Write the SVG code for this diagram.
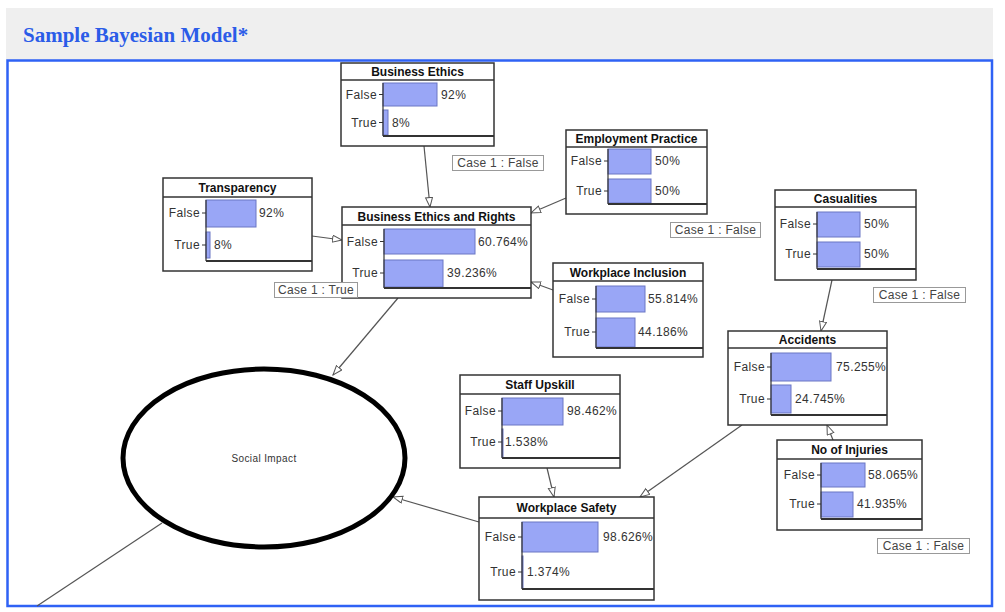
<svg xmlns="http://www.w3.org/2000/svg" width="1005" height="612" viewBox="0 0 1005 612">
<defs>
<marker id="arr" markerUnits="userSpaceOnUse" markerWidth="12" markerHeight="10" refX="10" refY="4" orient="auto">
<path d="M0.5,0.5 L10,4 L0.5,7.5 z" fill="#fff" stroke="#555" stroke-width="1"/>
</marker>
</defs>
<style>
.box{fill:#fff;stroke:#333;stroke-width:1.5}
.div{stroke:#333;stroke-width:1.5}
.ax{stroke:#333;stroke-width:1.2}
.bax{stroke:#333;stroke-width:2}
.bar{fill:#99a6f6;stroke:#6a76c4;stroke-width:1}
.tt{font-family:"Liberation Sans",Arial,sans-serif;font-size:12px;font-weight:bold;fill:#111;text-anchor:middle}
.lb{font-family:"Liberation Sans",Arial,sans-serif;font-size:12px;fill:#333;text-anchor:end;letter-spacing:0.4px}
.pc{font-family:"Liberation Sans",Arial,sans-serif;font-size:12px;fill:#333;letter-spacing:0.4px}
.cb{fill:#fff;stroke:#999;stroke-width:1}
.ct{font-family:"Liberation Sans",Arial,sans-serif;font-size:12px;fill:#444;text-anchor:middle;letter-spacing:0.3px}
.tk{stroke:#333;stroke-width:1}
.con{stroke:#555;stroke-width:1.2;fill:none}
</style>
<rect x="0" y="0" width="1005" height="612" fill="#fff"/>
<rect x="6" y="8" width="987" height="52" fill="#efefef"/>
<text x="23" y="42" font-family="'Liberation Serif','Times New Roman',serif" font-size="21" font-weight="bold" fill="#2b5ce8">Sample Bayesian Model*</text>
<rect x="7.5" y="60.5" width="984.5" height="545.5" fill="#fff" stroke="#2f62f5" stroke-width="2.5"/>

<g id="connectors">
<line class="con" x1="424" y1="146" x2="430" y2="207" marker-end="url(#arr)"/>
<line class="con" x1="566" y1="198" x2="531" y2="213" marker-end="url(#arr)"/>
<line class="con" x1="312" y1="236" x2="342" y2="240" marker-end="url(#arr)"/>
<line class="con" x1="553" y1="290" x2="531" y2="282" marker-end="url(#arr)"/>
<line class="con" x1="398" y1="298" x2="333" y2="375" marker-end="url(#arr)"/>
<line class="con" x1="479" y1="522" x2="393" y2="497" marker-end="url(#arr)"/>
<line class="con" x1="547" y1="468" x2="554" y2="497" marker-end="url(#arr)"/>
<line class="con" x1="742" y1="425" x2="640" y2="497" marker-end="url(#arr)"/>
<line class="con" x1="832" y1="280" x2="821" y2="331" marker-end="url(#arr)"/>
<line class="con" x1="833" y1="440" x2="827" y2="425" marker-end="url(#arr)"/>
<line class="con" x1="162" y1="523" x2="37" y2="606"/>
</g>

<g id="social-impact">
<ellipse cx="264" cy="458" rx="141" ry="89" fill="#fff" stroke="#000" stroke-width="5"/>
<text x="264" y="462" font-family="'Liberation Sans',Arial,sans-serif" font-size="10" fill="#333" text-anchor="middle" letter-spacing="0.4">Social Impact</text>
</g>

<g id="business-ethics">
<rect class="box" x="341" y="63" width="153" height="83"/>
<line class="div" x1="341" y1="80" x2="494" y2="80"/>
<text class="tt" x="417.5" y="76">Business Ethics</text>
<rect class="bar" x="383" y="83" width="54" height="23"/>
<rect class="bar" x="383" y="110" width="5" height="25"/>
<line class="ax" x1="383" y1="83" x2="383" y2="136"/>
<line class="bax" x1="383" y1="136" x2="494" y2="136"/>
<line class="tk" x1="379" y1="94.5" x2="383" y2="94.5"/><line class="tk" x1="379" y1="122.5" x2="383" y2="122.5"/>
<text class="lb" x="377" y="99">False</text><text class="lb" x="377" y="127">True</text>
<text class="pc" x="441" y="99">92%</text><text class="pc" x="392" y="127">8%</text>
</g>

<g id="employment-practice">
<rect class="box" x="566" y="130" width="141" height="84"/>
<line class="div" x1="566" y1="147" x2="707" y2="147"/>
<text class="tt" x="636.5" y="143">Employment Practice</text>
<rect class="bar" x="608" y="149" width="43" height="25"/>
<rect class="bar" x="608" y="179" width="43" height="24"/>
<line class="ax" x1="608" y1="149" x2="608" y2="204"/>
<line class="bax" x1="608" y1="204" x2="707" y2="204"/>
<line class="tk" x1="604" y1="161" x2="608" y2="161"/><line class="tk" x1="604" y1="191" x2="608" y2="191"/>
<text class="lb" x="602" y="165">False</text><text class="lb" x="602" y="195">True</text>
<text class="pc" x="655" y="165">50%</text><text class="pc" x="655" y="195">50%</text>
</g>

<g id="transparency">
<rect class="box" x="163" y="178" width="149" height="93"/>
<line class="div" x1="163" y1="197" x2="312" y2="197"/>
<text class="tt" x="237.5" y="192">Transparency</text>
<rect class="bar" x="206" y="200" width="50" height="27"/>
<rect class="bar" x="206" y="232" width="4" height="26"/>
<line class="ax" x1="206" y1="200" x2="206" y2="261"/>
<line class="bax" x1="206" y1="261" x2="312" y2="261"/>
<line class="tk" x1="202" y1="213" x2="206" y2="213"/><line class="tk" x1="202" y1="245" x2="206" y2="245"/>
<text class="lb" x="200" y="217">False</text><text class="lb" x="200" y="249">True</text>
<text class="pc" x="259" y="217">92%</text><text class="pc" x="214" y="249">8%</text>
</g>

<g id="business-ethics-and-rights">
<rect class="box" x="342" y="207" width="189" height="91"/>
<line class="div" x1="342" y1="225" x2="531" y2="225"/>
<text class="tt" x="436.5" y="221">Business Ethics and Rights</text>
<rect class="bar" x="384" y="229" width="91" height="25"/>
<rect class="bar" x="384" y="260" width="59" height="27"/>
<line class="ax" x1="384" y1="229" x2="384" y2="288"/>
<line class="bax" x1="384" y1="288" x2="531" y2="288"/>
<line class="tk" x1="380" y1="241.5" x2="384" y2="241.5"/><line class="tk" x1="380" y1="273" x2="384" y2="273"/>
<text class="lb" x="378" y="246">False</text><text class="lb" x="378" y="277">True</text>
<text class="pc" x="478" y="246">60.764%</text><text class="pc" x="447" y="277">39.236%</text>
</g>

<g id="workplace-inclusion">
<rect class="box" x="553" y="263" width="150" height="94"/>
<line class="div" x1="553" y1="281" x2="703" y2="281"/>
<text class="tt" x="628" y="277">Workplace Inclusion</text>
<rect class="bar" x="596" y="286" width="49" height="26"/>
<rect class="bar" x="596" y="318" width="39" height="29"/>
<line class="ax" x1="596" y1="286" x2="596" y2="348"/>
<line class="bax" x1="596" y1="348" x2="703" y2="348"/>
<line class="tk" x1="592" y1="299" x2="596" y2="299"/><line class="tk" x1="592" y1="332" x2="596" y2="332"/>
<text class="lb" x="590" y="303">False</text><text class="lb" x="590" y="336">True</text>
<text class="pc" x="648" y="303">55.814%</text><text class="pc" x="638" y="336">44.186%</text>
</g>

<g id="casualities">
<rect class="box" x="775" y="190" width="141" height="90"/>
<line class="div" x1="775" y1="207" x2="916" y2="207"/>
<text class="tt" x="845.5" y="203">Casualities</text>
<rect class="bar" x="817" y="212" width="43" height="25"/>
<rect class="bar" x="817" y="242" width="43" height="25"/>
<line class="ax" x1="817" y1="212" x2="817" y2="269"/>
<line class="bax" x1="817" y1="269" x2="916" y2="269"/>
<line class="tk" x1="813" y1="224" x2="817" y2="224"/><line class="tk" x1="813" y1="254" x2="817" y2="254"/>
<text class="lb" x="811" y="228">False</text><text class="lb" x="811" y="258">True</text>
<text class="pc" x="864" y="228">50%</text><text class="pc" x="864" y="258">50%</text>
</g>

<g id="accidents">
<rect class="box" x="728" y="331" width="159" height="94"/>
<line class="div" x1="728" y1="348" x2="887" y2="348"/>
<text class="tt" x="807.5" y="344">Accidents</text>
<rect class="bar" x="771" y="353" width="60" height="28"/>
<rect class="bar" x="771" y="385" width="20" height="28"/>
<line class="ax" x1="771" y1="353" x2="771" y2="415"/>
<line class="bax" x1="771" y1="415" x2="887" y2="415"/>
<line class="tk" x1="767" y1="367" x2="771" y2="367"/><line class="tk" x1="767" y1="399" x2="771" y2="399"/>
<text class="lb" x="765" y="371">False</text><text class="lb" x="765" y="403">True</text>
<text class="pc" x="836" y="371">75.255%</text><text class="pc" x="795" y="403">24.745%</text>
</g>

<g id="staff-upskill">
<rect class="box" x="460" y="375" width="160" height="93"/>
<line class="div" x1="460" y1="394" x2="620" y2="394"/>
<text class="tt" x="540" y="389">Staff Upskill</text>
<rect class="bar" x="502" y="398" width="61" height="27"/>
<rect class="bar" x="502" y="429" width="1" height="28"/>
<line class="ax" x1="502" y1="398" x2="502" y2="458"/>
<line class="bax" x1="502" y1="458" x2="620" y2="458"/>
<line class="tk" x1="498" y1="411" x2="502" y2="411"/><line class="tk" x1="498" y1="442" x2="502" y2="442"/>
<text class="lb" x="496" y="415">False</text><text class="lb" x="496" y="446">True</text>
<text class="pc" x="567" y="415">98.462%</text><text class="pc" x="505" y="446">1.538%</text>
</g>

<g id="no-of-injuries">
<rect class="box" x="777" y="440" width="145" height="90"/>
<line class="div" x1="777" y1="459" x2="922" y2="459"/>
<text class="tt" x="849.5" y="454">No of Injuries</text>
<rect class="bar" x="821" y="463" width="44" height="24"/>
<rect class="bar" x="821" y="492" width="32" height="25"/>
<line class="ax" x1="821" y1="463" x2="821" y2="519"/>
<line class="bax" x1="821" y1="519" x2="922" y2="519"/>
<line class="tk" x1="817" y1="475" x2="821" y2="475"/><line class="tk" x1="817" y1="504" x2="821" y2="504"/>
<text class="lb" x="815" y="479">False</text><text class="lb" x="815" y="508">True</text>
<text class="pc" x="868" y="479">58.065%</text><text class="pc" x="857" y="508">41.935%</text>
</g>

<g id="workplace-safety">
<rect class="box" x="479" y="497" width="175" height="103"/>
<line class="div" x1="479" y1="518" x2="654" y2="518"/>
<text class="tt" x="566.5" y="512">Workplace Safety</text>
<rect class="bar" x="522" y="522" width="76" height="30"/>
<rect class="bar" x="522" y="556" width="1" height="32"/>
<line class="ax" x1="522" y1="522" x2="522" y2="589"/>
<line class="bax" x1="522" y1="589" x2="654" y2="589"/>
<line class="tk" x1="518" y1="537" x2="522" y2="537"/><line class="tk" x1="518" y1="572" x2="522" y2="572"/>
<text class="lb" x="516" y="541">False</text><text class="lb" x="516" y="576">True</text>
<text class="pc" x="603" y="541">98.626%</text><text class="pc" x="527" y="576">1.374%</text>
</g>

<g id="case-labels">
<rect class="cb" x="452.5" y="155.5" width="91" height="15"/><text class="ct" x="498" y="167">Case 1 : False</text>
<rect class="cb" x="670.5" y="222.5" width="90" height="15"/><text class="ct" x="715.5" y="234">Case 1 : False</text>
<rect class="cb" x="274.5" y="282.5" width="83" height="15"/><text class="ct" x="316" y="294">Case 1 : True</text>
<rect class="cb" x="873.5" y="287.5" width="92" height="15"/><text class="ct" x="919.5" y="299">Case 1 : False</text>
<rect class="cb" x="877.5" y="538.5" width="92" height="15"/><text class="ct" x="923.5" y="550">Case 1 : False</text>
</g>
</svg>
